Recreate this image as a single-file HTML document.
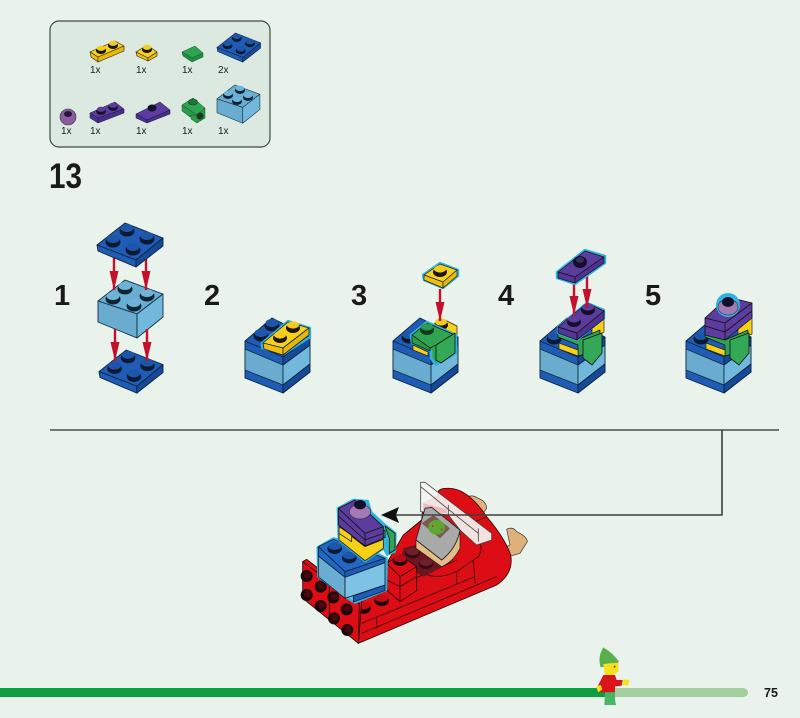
<!DOCTYPE html>
<html><head><meta charset="utf-8">
<style>
html,body{margin:0;padding:0;background:#e9f3ec;width:800px;height:718px;overflow:hidden}
svg{display:block}
text{font-family:"Liberation Sans",sans-serif;fill:#1a1a1a}
.n{font-size:29px;font-weight:bold}
.l{font-size:10px}
</style></head><body>
<svg width="800" height="718" viewBox="0 0 800 718" xmlns="http://www.w3.org/2000/svg" stroke-linejoin="round">
<defs>
<g id="sb"><ellipse cx="0" cy="2" rx="7.5" ry="5.5" fill="#0b1a33"/><ellipse cx="0" cy="-1" rx="6.5" ry="4" fill="#1d56a8"/></g>
<g id="sl"><ellipse cx="0" cy="2" rx="7.5" ry="5.5" fill="#0f2433"/><ellipse cx="0" cy="-1" rx="6.5" ry="4" fill="#6fb4d8"/></g>
<g id="sy"><ellipse cx="0" cy="2" rx="7" ry="5" fill="#1a1400"/><ellipse cx="0" cy="-1" rx="6" ry="3.6" fill="#f5cc1e"/></g>
<g id="sp"><ellipse cx="0" cy="2" rx="7" ry="5" fill="#150f2a"/><ellipse cx="0" cy="-1" rx="6" ry="3.6" fill="#5c3c9e"/></g>
<g id="arr"><path d="M0,0V32" stroke="#c4112b" stroke-width="2.4" fill="none"/><path d="M-4.5,13L4.5,13L0,32Z" fill="#c4112b"/></g>
<g id="p22" stroke="#0d2440" stroke-width=".9">
<path d="M0,22L28,0L66,15L39,37Z" fill="#1f5cb5"/><path d="M0,22L1,28L39,44L39,37Z" fill="#1f5cb5"/><path d="M39,37L39,44L66,23L66,15Z" fill="#164a99"/>
</g>
<g id="p22s"><use href="#p22"/>
<use href="#sb" x="30" y="6"/><use href="#sb" x="50" y="14"/><use href="#sb" x="16" y="17"/><use href="#sb" x="36" y="25"/></g>
<g id="br" stroke="#10303f" stroke-width=".9">
<path d="M0,21L27,0L65,14L39,34Z" fill="#69aed2"/><path d="M0,21L0,42L39,58L39,34Z" fill="#6aaccf"/><path d="M39,34L39,58L65,37L65,14Z" fill="#72b8dc"/>
</g>
<g id="stack">
<path d="M0,23L27,0L65,19L65,54L38,75L0,60Z" fill="#1f5cb5" stroke="#0d2440" stroke-width=".9"/>
<path d="M0,31L38,47L65,27L65,46L38,67L0,52Z" fill="#6aaccf" stroke="#10303f" stroke-width=".9"/>
<path d="M38,39V75M0,23L38,39L65,19" fill="none" stroke="#0d2440" stroke-width=".9"/>
<path d="M38,47L65,27V46L38,67Z" fill="#72b8dc" stroke="#10303f" stroke-width=".9"/>
<path d="M38,67L65,46V54L38,75Z" fill="#164a99" stroke="#0d2440" stroke-width=".9"/>
<path d="M38,39L65,19V27L38,47Z" fill="#164a99" stroke="#0d2440" stroke-width=".9"/>
</g>
</defs>

<rect width="800" height="718" fill="#e9f3ec"/>

<!-- legend -->
<rect x="50" y="21" width="220" height="126" rx="9" fill="#dce9e0" stroke="#3d4a43" stroke-width="1.2"/>
<g stroke="#2a2410" stroke-width=".6">
<path d="M90,52L115,41L124,46L98,57Z" fill="#f7d117"/><path d="M90,52L91,57L98,62L98,57Z" fill="#eebf10"/><path d="M98,57L98,62L124,51L124,46Z" fill="#e6b80e"/>
<path d="M136,52L147,45L157,52L148,58Z" fill="#f7d117"/><path d="M136,52L137,56L148,61L148,58Z" fill="#eebf10"/><path d="M148,58L148,61L157,56L157,52Z" fill="#e6b80e"/>
</g>
<use href="#sy" transform="translate(101,49) scale(.72)"/><use href="#sy" transform="translate(113,44) scale(.72)"/><use href="#sy" transform="translate(147,48) scale(.72)"/>
<path d="M182,52L195,46L203,53L192,58Z" fill="#2fa552" stroke="#14552a" stroke-width=".5"/>
<path d="M182,52L183,56L192,62L203,57L203,53L192,58Z" fill="#258c44" stroke="#14552a" stroke-width=".5"/>
<use href="#p22s" transform="translate(217,33) scale(.66)"/>
<circle cx="68" cy="117" r="8" fill="#8a5f9c" stroke="#3a2b46" stroke-width=".6"/><ellipse cx="68" cy="114" rx="4" ry="3" fill="#26163a"/>
<g stroke="#1c1338" stroke-width=".5">
<path d="M90,113L115,102L124,109L98,118Z" fill="#5c3c9e"/><path d="M90,113L90,118L98,123L98,118Z" fill="#4e3290"/><path d="M98,118L98,123L124,113L124,109Z" fill="#4a2f8a"/>
<path d="M136,114L160,102L170,110L147,120Z" fill="#5c3c9e"/><path d="M136,114L136,118L147,123L147,120Z" fill="#4e3290"/><path d="M147,120L147,123L170,114L170,110Z" fill="#4a2f8a"/>
</g>
<use href="#sp" transform="translate(101,110) scale(.7)"/><use href="#sp" transform="translate(113,106) scale(.7)"/>
<ellipse cx="152" cy="108" rx="4.5" ry="3.5" fill="#17102b"/>
<path d="M182,105L193,98L205,108L197,115Z" fill="#2fa552" stroke="#14552a" stroke-width=".5"/>
<path d="M182,105V111L190,117L197,115Z" fill="#2b9a4c" stroke="#14552a" stroke-width=".5"/>
<path d="M197,115L205,108V118L197,123L191,119V115Z" fill="#2a9a4b" stroke="#14552a" stroke-width=".5"/>
<ellipse cx="193" cy="102" rx="4.5" ry="3" fill="#1e7a3a" stroke="#0e3a1e" stroke-width=".6"/>
<circle cx="200" cy="116" r="3.5" fill="#163a22"/>
<use href="#br" transform="translate(217,85) scale(.66)"/>
<use href="#sl" transform="translate(228,94) scale(.66)"/><use href="#sl" transform="translate(240,89) scale(.66)"/><use href="#sl" transform="translate(248,96) scale(.66)"/><use href="#sl" transform="translate(237,100) scale(.66)"/>
<text class="l" x="90" y="73">1x</text><text class="l" x="136" y="73">1x</text><text class="l" x="182" y="73">1x</text><text class="l" x="218" y="73">2x</text>
<text class="l" x="61" y="134">1x</text><text class="l" x="90" y="134">1x</text><text class="l" x="136" y="134">1x</text><text class="l" x="182" y="134">1x</text><text class="l" x="218" y="134">1x</text>

<text x="49" y="188" textLength="33" lengthAdjust="spacingAndGlyphs" style="font-size:35px;font-weight:bold">13</text>
<text class="n" x="54" y="305">1</text><text class="n" x="204" y="305">2</text><text class="n" x="351" y="305">3</text><text class="n" x="498" y="305">4</text><text class="n" x="645" y="305">5</text>

<!-- step 1 -->
<use href="#br" transform="translate(98,280)"/>
<use href="#sl" x="125" y="287"/><use href="#sl" x="147" y="294"/><use href="#sl" x="113" y="297"/><use href="#sl" x="134" y="304"/>
<use href="#arr" x="114" y="258"/><use href="#arr" x="146" y="258"/>
<use href="#p22s" x="97" y="223"/>
<use href="#p22s" transform="translate(99,350) scale(.97,.98)"/>
<use href="#arr" x="115" y="329"/><use href="#arr" x="147" y="329"/>

<!-- step 2 -->
<use href="#stack" x="245" y="318"/>
<use href="#sb" x="272" y="324"/><use href="#sb" x="261" y="334"/>
<path d="M262,343L288,321L310,328L310,337L284,354L262,348Z" fill="none" stroke="#2fb4e0" stroke-width="2.4"/>
<path d="M263,343L288,322L309,328L283,348Z" fill="#f7d117" stroke="#222" stroke-width=".8"/>
<path d="M263,343L264,349L283,355L283,348Z" fill="#eebf10" stroke="#222" stroke-width=".8"/><path d="M283,348L283,355L309,335L309,328Z" fill="#e6b80e" stroke="#222" stroke-width=".8"/>
<use href="#sy" x="293" y="326"/><use href="#sy" x="280" y="336"/>

<!-- step 3 -->
<use href="#stack" x="393" y="318"/>
<use href="#sb" x="409" y="336"/>
<path d="M435,328L445,320L457,326V338L440,338Z" fill="#f7d117" stroke="#222" stroke-width=".7"/>
<use href="#sy" x="441" y="323"/>
<path d="M411,335L427,322L456,335L456,353L436,365L431,358V351L412,343Z" fill="#2fa552" stroke="#2fb4e0" stroke-width="2.6"/>
<path d="M413,345L428,352V356L413,350Z" fill="#f7d117" stroke="#222" stroke-width=".7"/>
<path d="M412,335L427,323L455,335L436,345L430,348Z" fill="#2fa552" stroke="#111" stroke-width=".7"/>
<path d="M412,335L430,348V351L412,343Z" fill="#2b9a4c" stroke="#111" stroke-width=".7"/>
<path d="M436,345L455,333V353L441,363L436,360Z" fill="#33a957" stroke="#111" stroke-width=".8"/>
<ellipse cx="427" cy="330" rx="7" ry="5" fill="#0d3a1d"/><ellipse cx="427" cy="327" rx="6" ry="3.6" fill="#2b9a4c"/>
<path d="M423,275L440,263L458,270L458,276L443,288L424,280Z" fill="#f7d117" stroke="#2fb4e0" stroke-width="2.4"/>
<path d="M424,275L440,264L457,270L443,282Z" fill="#f7d117" stroke="#222" stroke-width=".7"/>
<path d="M424,275V280L443,288V282Z" fill="#eebf10" stroke="#222" stroke-width=".7"/>
<path d="M443,282V288L457,276V270Z" fill="#e6b80e" stroke="#222" stroke-width=".7"/>
<use href="#sy" x="440" y="270"/>
<use href="#arr" x="440" y="289"/>

<!-- step 4 -->
<use href="#stack" x="540" y="318"/>
<use href="#sb" x="554" y="337"/>
<path d="M592,325L604,318V332L592,340Z" fill="#f7d117" stroke="#222" stroke-width=".7"/>
<path d="M558,333L577,340L600,330V350L578,356V345L558,337Z" fill="#2fa552" stroke="#111" stroke-width=".7"/>
<path d="M559,343L578,350V356L559,349Z" fill="#f7d117" stroke="#222" stroke-width=".7"/>
<path d="M583,340L602,333V353L592,365L583,358Z" fill="#33a957" stroke="#111" stroke-width=".8"/>
<path d="M558,327L587,303L604,310V318L577,340L558,333Z" fill="#5c3c9e" stroke="#2fb4e0" stroke-width="2.4"/>
<path d="M558,327L587,303L604,311L577,333Z" fill="#5c3c9e" stroke="#111" stroke-width=".7"/>
<path d="M558,327V333L577,340V333Z" fill="#54369a" stroke="#111" stroke-width=".7"/>
<path d="M577,333V340L604,319V311Z" fill="#4e3290" stroke="#111" stroke-width=".7"/>
<use href="#sp" x="574" y="320"/><use href="#sp" x="588" y="308"/>
<use href="#arr" x="574" y="283"/><use href="#arr" x="587" y="276"/>
<path d="M557,272L585,250L605,256V263L575,284L557,278Z" fill="#5c3c9e" stroke="#2fb4e0" stroke-width="2.4"/>
<path d="M558,272L585,251L604,257L575,277Z" fill="#5c3c9e" stroke="#111" stroke-width=".7"/>
<path d="M558,272V278L575,283V277Z" fill="#54369a" stroke="#111" stroke-width=".7"/>
<path d="M575,277V283L604,263V257Z" fill="#4e3290" stroke="#111" stroke-width=".7"/>
<ellipse cx="580" cy="262" rx="7" ry="6" fill="#15102a"/><ellipse cx="580" cy="260" rx="4" ry="3" fill="#3a2a66"/>

<!-- step 5 -->
<use href="#stack" x="686" y="318"/>
<use href="#sb" x="701" y="337"/>
<path d="M738,322L752,314V334L738,340Z" fill="#f7d117" stroke="#222" stroke-width=".7"/>
<path d="M705,333L725,340L748,330V350L725,356V345L705,337Z" fill="#2fa552" stroke="#111" stroke-width=".7"/>
<path d="M706,343L725,350V356L706,349Z" fill="#f7d117" stroke="#222" stroke-width=".7"/>
<path d="M730,340L749,333V353L739,365L730,358Z" fill="#33a957" stroke="#111" stroke-width=".8"/>
<path d="M705,318L728,297L752,303V318L725,340L705,335Z" fill="#5c3c9e" stroke="#111" stroke-width=".8"/>
<path d="M705,318L725,323L752,303M725,323V340M705,326L725,332L752,311" fill="none" stroke="#111" stroke-width=".8"/>
<circle cx="728" cy="305" r="12" fill="#2fb4e0"/><ellipse cx="728" cy="307" rx="10" ry="8" fill="#a27ab4" stroke="#3a2b46" stroke-width=".6"/>
<ellipse cx="728" cy="302" rx="6" ry="5" fill="#15102a"/>

<!-- divider + callout -->
<path d="M50,430H779" stroke="#4a4f4c" stroke-width="1.4" fill="none"/>

<!-- sleigh drawn in 3x local coordinates -->
<g transform="translate(290,470) scale(.33333)">
<path d="M530,82Q545,72 565,85Q590,95 590,115L580,130L540,120Z" fill="#dfb27c" stroke="#333" stroke-width="2"/>
<path d="M650,178Q668,168 680,185Q712,200 712,215L690,250L612,272L610,250L660,225Z" fill="#dfb27c" stroke="#333" stroke-width="2"/>
<path d="M205,520L620,345Q672,310 662,255Q645,205 590,140Q530,50 470,55Q440,55 445,75L400,100L395,150L340,195L290,280L215,395Z" fill="#dc0d14" stroke="#2a0505" stroke-width="2.5"/>
<path d="M380,290Q420,340 500,305L565,260Q590,220 540,200M215,460L555,320M215,490L620,320M500,305L500,345M550,270L555,340M330,345L500,270M260,475L260,445M590,140L520,170" fill="none" stroke="#3a0505" stroke-width="2.5"/>
<path d="M340,235L430,210L460,290L400,320L330,280Z" fill="#6b1520"/>
<ellipse cx="368" cy="250" rx="22" ry="15" fill="#3a0a12"/><ellipse cx="408" cy="282" rx="22" ry="15" fill="#3a0a12"/>
<ellipse cx="368" cy="245" rx="19" ry="11" fill="#6d1f2b"/><ellipse cx="408" cy="277" rx="19" ry="11" fill="#6d1f2b"/>
<!-- windscreen -->
<path d="M392,37L405,37L605,190V210L560,225L510,180L475,135L392,125Z" fill="#f4f5f2" fill-opacity=".92" stroke="#444" stroke-width="2.5"/>
<path d="M392,50L475,118L565,190M475,105V135M565,175V215" fill="none" stroke="#444" stroke-width="2.5"/>
<path d="M400,100L470,118V130L400,124Z" fill="#e9a9a9" fill-opacity=".7"/>
<!-- console -->
<path d="M378,210V235L455,290Q490,275 510,235L510,190L455,270Z" fill="#e6bd86" stroke="#222" stroke-width="2"/>
<path d="M378,210L405,115L425,112L510,180Q500,235 455,270Z" fill="#a9a9a9" stroke="#222" stroke-width="2.5"/>
<path d="M395,160L430,135L480,175L450,205Z" fill="#7a5a50"/><ellipse cx="440" cy="172" rx="25" ry="22" fill="#5da832"/><circle cx="428" cy="168" r="3" fill="#d2261c"/><circle cx="455" cy="178" r="3" fill="#d2261c"/>
<path d="M290,280L330,255L380,290L380,362L330,395L290,360Z" fill="#dc0d14" stroke="#2a0505" stroke-width="2.5"/>
<path d="M290,280L330,320L380,290M330,320V395M290,330L330,350L380,320" fill="none" stroke="#2a0505" stroke-width="2.5"/>
<ellipse cx="330" cy="272" rx="22" ry="16" fill="#1c0404"/><ellipse cx="330" cy="266" rx="19" ry="11" fill="#b50d15"/>
<ellipse cx="275" cy="392" rx="22" ry="16" fill="#1c0404"/><ellipse cx="275" cy="385" rx="19" ry="11" fill="#c40d15"/>
<ellipse cx="222" cy="415" rx="20" ry="16" fill="#1c0404"/><ellipse cx="222" cy="408" rx="17" ry="10" fill="#c40d15"/>
<path d="M38,275L50,268L215,395L205,520L38,385Z" fill="#dc0d14" stroke="#2a0505" stroke-width="2.5"/>
<path d="M38,275L208,402L205,520M118,335L118,450" fill="none" stroke="#2a0505" stroke-width="2.5"/>
<g fill="#1e0505"><circle cx="50" cy="318" r="18"/><circle cx="92" cy="350" r="18"/><circle cx="130" cy="382" r="18"/><circle cx="170" cy="418" r="18"/><circle cx="50" cy="375" r="18"/><circle cx="92" cy="408" r="18"/><circle cx="132" cy="445" r="18"/><circle cx="172" cy="480" r="18"/></g>
<g fill="#4a0a0c"><circle cx="52" cy="316" r="10"/><circle cx="94" cy="348" r="10"/><circle cx="132" cy="380" r="10"/><circle cx="172" cy="416" r="10"/><circle cx="52" cy="373" r="10"/><circle cx="94" cy="406" r="10"/><circle cx="134" cy="443" r="10"/><circle cx="174" cy="478" r="10"/></g>
<!-- blue/light brick with outline -->
<path d="M83,232L130,205L200,220L290,265L288,360L195,398L165,380L85,320Z" fill="#7dc0e0" stroke="#2fb4e0" stroke-width="7"/>
<path d="M85,230L130,208L285,265L165,305Z" fill="#2267c4" stroke="#0d2440" stroke-width="2.5"/>
<path d="M85,230V258L165,322V305Z" fill="#2267c4" stroke="#0d2440" stroke-width="2.5"/>
<path d="M165,305V322L285,278V265Z" fill="#1f5cb5" stroke="#0d2440" stroke-width="2.5"/>
<path d="M85,258V320L165,385V322Z" fill="#69aed2" stroke="#123" stroke-width="2.5"/>
<path d="M165,322V385L285,345V278Z" fill="#7dc3e5" stroke="#123" stroke-width="2.5"/>
<path d="M190,378V396L285,362V345Z" fill="#1f5cb5" stroke="#0d2440" stroke-width="2.5"/>
<ellipse cx="134" cy="236" rx="22" ry="16" fill="#0b1a33"/><ellipse cx="134" cy="229" rx="19" ry="11" fill="#1d56a8"/>
<ellipse cx="178" cy="264" rx="22" ry="16" fill="#0b1a33"/><ellipse cx="178" cy="257" rx="19" ry="11" fill="#1d56a8"/>
<!-- tall stack -->
<path d="M140,113L190,86L236,90L246,124L285,160L320,188L318,247L290,258L280,240L225,278L143,212Z" fill="#2fb4e0"/>
<path d="M285,168L315,190V240L298,250L298,205Z" fill="#2fa552" stroke="#111" stroke-width="2.5"/>
<path d="M147,170L225,230L280,208L280,235L225,272L147,210Z" fill="#f7d117" stroke="#222" stroke-width="2.5"/>
<path d="M185,195L225,228L285,202V180L225,200Z" fill="#2fa552" stroke="#111" stroke-width="2.5"/>
<path d="M147,170L185,195V215L147,190Z" fill="#f7d117" stroke="#222" stroke-width="2.5"/>
<path d="M145,115L195,90L280,170V205L225,228L145,165Z" fill="#5c3c9e" stroke="#111" stroke-width="2.5"/>
<path d="M145,115L225,190L280,170M225,190V228M145,138L225,210L280,190" fill="none" stroke="#111" stroke-width="2.5"/>
<ellipse cx="210" cy="125" rx="32" ry="22" fill="#a27ab4" stroke="#3a2b46" stroke-width="2"/>
<ellipse cx="210" cy="104" rx="18" ry="14" fill="#15102a"/>
</g>

<path d="M722,430V515H396" stroke="#3c403e" stroke-width="1.6" fill="none"/>
<path d="M381,515L399,507L396,515L399,523Z" fill="#111"/>

<!-- footer bar -->
<rect x="590" y="688" width="158" height="9" rx="4.5" fill="#a3cf9f"/>
<rect x="0" y="688" width="606" height="9" fill="#0aa03f"/>
<text x="764" y="697" style="font-size:12.5px;font-weight:bold">75</text>

<!-- figure -->
<g transform="translate(570,640) scale(.33333)">
<path d="M100,22Q130,40 147,65L140,72L92,82Q82,50 100,22Z" fill="#58b04a"/>
<path d="M100,72L145,68L145,95L130,105H105Z" fill="#f7e21a"/>
<circle cx="134" cy="80" r="3" fill="#d2261c"/>
<path d="M100,105L135,105L140,120L158,120L155,137L135,140L135,157L85,157L85,135Z" fill="#d9141c"/>
<path d="M78,140L92,135L97,148L85,157Z" fill="#f7e21a"/><path d="M158,118L178,120L175,137L158,135Z" fill="#f7e21a"/>
<path d="M105,157H135V180L138,195H103Z" fill="#49b566"/>
</g>
</svg>
</body></html>
